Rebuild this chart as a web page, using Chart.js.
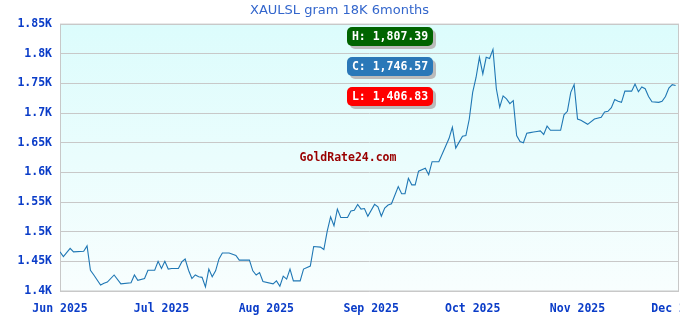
<!DOCTYPE html>
<html>
<head>
<meta charset="utf-8">
<title>XAULSL gram 18K 6months</title>
<script src="https://cdn.jsdelivr.net/npm/chart.js@4.4.1/dist/chart.umd.min.js"></script>
<style>
  html, body { margin: 0; padding: 0; background: #fff; }
  #chart-wrap { width: 680px; height: 320px; position: relative; }
</style>
</head>
<body>
<div id="chart-wrap"><canvas id="line-chart"></canvas></div>
<script>
// price series, day offsets counted from 1 Jun 2025
const days = [
    0, 1, 3, 4, 7, 8, 9, 10, 12, 13, 14, 16, 18, 21, 22, 23, 25, 26, 28, 29,
    30, 31, 32, 33, 35, 36, 37, 38, 39, 40, 41, 42, 43, 44, 45, 46, 47, 48, 50, 52,
    53, 56, 57, 58, 59, 60, 63, 64, 65, 66, 67, 68, 69, 71, 72, 74, 75, 77, 78, 79,
    80, 81, 82, 83, 85, 86, 87, 88, 89, 90, 91, 93, 94, 95, 96, 97, 98, 100, 101, 102,
    103, 104, 105, 106, 108, 109, 110, 112, 114, 115, 116, 117, 118, 119, 120, 121, 122, 123, 124, 125,
    126, 127, 128, 129, 130, 131, 132, 133, 134, 135, 136, 137, 138, 139, 140, 141, 142, 143, 144, 145,
    148, 149, 150, 151, 152, 153, 154, 156, 158, 160, 161, 162, 163, 164, 165, 166, 167, 169, 170, 171,
    172, 173, 174, 175, 177, 178, 179, 180, 181, 182
];
const prices = [
    1466, 1458, 1472, 1466, 1467, 1476, 1435, 1427, 1410, 1413, 1415, 1427, 1412, 1414, 1427, 1418, 1421, 1435, 1435, 1450,
    1438, 1450, 1437, 1438, 1438, 1449, 1454, 1435, 1421, 1427, 1424, 1423, 1406.83, 1437, 1424, 1434, 1454, 1464, 1464, 1460,
    1452, 1452, 1434, 1427, 1431, 1416, 1412, 1417, 1408, 1425, 1420, 1437, 1417, 1417, 1437, 1442, 1475, 1474, 1470, 1501,
    1525, 1510, 1538, 1524, 1524, 1535, 1536, 1546, 1538, 1539, 1526, 1546, 1542, 1526, 1540, 1545, 1547, 1576, 1564, 1564,
    1590, 1579, 1579, 1602, 1607, 1596, 1618, 1618, 1644, 1657, 1676, 1641, 1651, 1661, 1662, 1690, 1735, 1760, 1794, 1766,
    1794, 1792, 1807.39, 1741, 1710, 1729, 1724, 1716, 1721, 1662, 1652, 1650, 1666, 1667, 1668, 1669, 1670, 1664, 1678, 1671,
    1671, 1697, 1703, 1735, 1748, 1690, 1688, 1681, 1690, 1693, 1702, 1703, 1709, 1723, 1720, 1718, 1737, 1737, 1749, 1736,
    1744, 1741, 1728, 1719, 1718, 1720, 1728, 1742, 1748, 1746.57
];
const xTickDays = [0, 30, 61, 92, 122, 153, 183];
const xTickLabels = ['Jun 2025', 'Jul 2025', 'Aug 2025', 'Sep 2025', 'Oct 2025', 'Nov 2025', 'Dec 2025'];
const yTickValues = [1400, 1450, 1500, 1550, 1600, 1650, 1700, 1750, 1800, 1850];
const yTickLabels = ['1.4K', '1.45K', '1.5K', '1.55K', '1.6K', '1.65K', '1.7K', '1.75K', '1.8K', '1.85K'];

const tickFont = { family: 'DejaVu Sans Mono', size: 11.5, weight: 'bold' };

function fmt(v) {
    return v.toFixed(2).replace(/\B(?=(\d{3})+(?!\d))/g, ',');
}

// plot background + frame
const plotBg = {
    id: 'plotBg',
    beforeDraw(chart) {
        const { ctx, chartArea: a } = chart;
        const g = ctx.createLinearGradient(0, a.top, 0, a.bottom);
        g.addColorStop(0, '#dcfcfc');
        g.addColorStop(1, '#f8fefe');
        ctx.save();
        ctx.fillStyle = g;
        ctx.fillRect(a.left, a.top, a.right - a.left, a.bottom - a.top);
        ctx.restore();
    },
    beforeDatasetsDraw(chart) {
        const { ctx, chartArea: a } = chart;
        ctx.save();
        ctx.strokeStyle = '#c8c8c8';
        ctx.lineWidth = 1;
        ctx.strokeRect(a.left + 0.5, a.top, a.right - a.left - 1, a.bottom - a.top);
        ctx.restore();
    }
};

// high / close / low badges and the site mark
const badges = {
    id: 'badges',
    afterDatasetsDraw(chart) {
        const ctx = chart.ctx;
        const items = [
            { text: 'H: ' + fmt(Math.max(...prices)), color: '#006400', top: 27 },
            { text: 'C: ' + fmt(prices[prices.length - 1]), color: '#2a78b8', top: 57 },
            { text: 'L: ' + fmt(Math.min(...prices)), color: '#ff0000', top: 87 }
        ];
        ctx.save();
        ctx.font = 'bold 11.5px "DejaVu Sans Mono"';
        ctx.textAlign = 'center';
        ctx.textBaseline = 'middle';
        items.forEach(it => {
            ctx.fillStyle = '#bbbbbb';
            ctx.beginPath();
            ctx.roundRect(350, it.top + 3, 86, 19, 5);
            ctx.fill();
            ctx.fillStyle = it.color;
            ctx.beginPath();
            ctx.roundRect(347, it.top, 86, 19, 5);
            ctx.fill();
            ctx.fillStyle = '#ffffff';
            ctx.fillText(it.text, 390, it.top + 10);
        });
        ctx.fillStyle = '#990000';
        ctx.fillText('GoldRate24.com', 348, 158);
        ctx.restore();
    }
};

document.addEventListener('DOMContentLoaded', function () {
    const ctx = document.getElementById('line-chart').getContext('2d');
    const chart = new Chart(ctx, {
        type: 'line',
        data: {
            datasets: [{
                label: 'XAULSL',
                data: days.map((d, i) => ({ x: d, y: prices[i] })),
                borderColor: '#1f77b4',
                borderWidth: 1.1,
                pointRadius: 0,
                tension: 0,
                fill: false
            }]
        },
        options: {
            responsive: true,
            maintainAspectRatio: false,
            animation: false,
            layout: { padding: { left: 0, right: 1, top: 0, bottom: 0 } },
            plugins: {
                legend: { display: false },
                tooltip: { enabled: false },
                title: {
                    display: true,
                    text: 'XAULSL gram 18K 6months',
                    color: '#3366cc',
                    font: { family: 'DejaVu Sans', size: 13, weight: 'normal' },
                    padding: { top: 3, bottom: 5.5 }
                }
            },
            scales: {
                x: {
                    type: 'linear',
                    min: 0,
                    max: 183,
                    grid: { display: false },
                    border: { display: false },
                    afterBuildTicks: s => { s.ticks = xTickDays.map(v => ({ value: v })); },
                    afterFit: s => { s.height = 29; s.paddingLeft = 0; s.paddingRight = 0; },
                    ticks: {
                        color: '#0a3cc8',
                        font: tickFont,
                        maxRotation: 0,
                        autoSkip: false,
                        padding: 3,
                        callback: (v, i) => xTickLabels[i]
                    }
                },
                y: {
                    min: 1400,
                    max: 1850,
                    grid: { color: '#c8c8c8', drawTicks: false },
                    border: { display: false },
                    afterBuildTicks: s => { s.ticks = yTickValues.map(v => ({ value: v })); },
                    afterFit: s => { s.width = 60; },
                    ticks: {
                        color: '#0a3cc8',
                        font: tickFont,
                        padding: 8,
                        callback: (v, i) => yTickLabels[i]
                    }
                }
            }
        },
        plugins: [plotBg, badges]
    });
});
</script>
</body>
</html>
